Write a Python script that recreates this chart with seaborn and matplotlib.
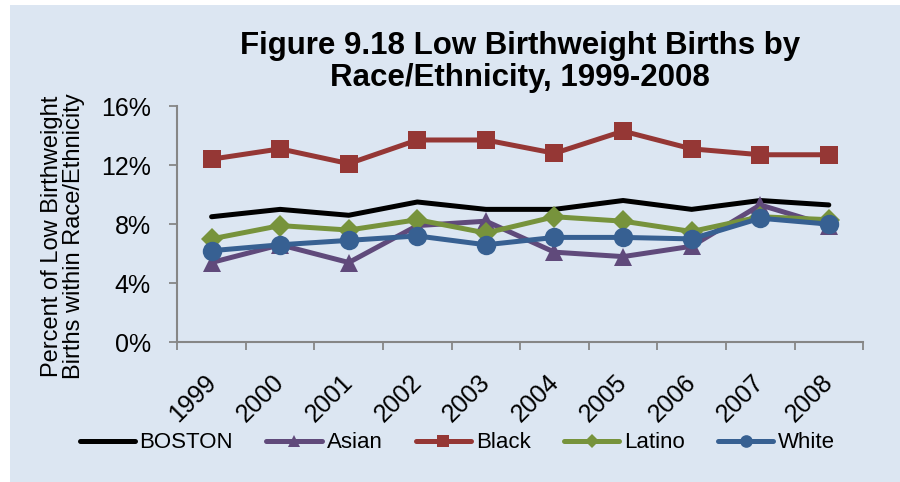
import pandas as pd
import matplotlib.pyplot as plt
import matplotlib.transforms as mtransforms
import seaborn as sns
from matplotlib.patches import Rectangle
from matplotlib.ticker import FuncFormatter, FixedLocator

years = ['1999', '2000', '2001', '2002', '2003', '2004', '2005', '2006', '2007', '2008']
boston = [8.5, 9.0, 8.6, 9.5, 9.0, 9.0, 9.6, 9.0, 9.6, 9.3]
asian = [5.4, 6.6, 5.4, 7.9, 8.2, 6.1, 5.8, 6.5, 9.3, 7.9]
black = [12.4, 13.1, 12.1, 13.7, 13.7, 12.8, 14.3, 13.1, 12.7, 12.7]
latino = [7.0, 7.9, 7.6, 8.3, 7.4, 8.5, 8.2, 7.5, 8.5, 8.3]
white = [6.2, 6.6, 6.9, 7.2, 6.6, 7.1, 7.1, 7.0, 8.4, 8.0]

series = ['BOSTON', 'Asian', 'Black', 'Latino', 'White']
values = [boston, asian, black, latino, white]
colors = ['#000000', '#604A7B', '#953735', '#77933C', '#376092']
markers = ['', '^', 's', 'D', 'o']
msizes = [0, 13, 13, 11, 14]

rows = []
for name, vals in zip(series, values):
    for i, v in enumerate(vals):
        rows.append({'pos': i, 'year': years[i], 'group': name, 'pct': v})
df = pd.DataFrame(rows)

bg = '#DCE6F2'
sns.set_style('white')
plt.rcParams['font.family'] = ['Liberation Sans', 'DejaVu Sans']
plt.rcParams['text.color'] = 'black'
plt.rcParams['axes.labelcolor'] = 'black'

fig = plt.figure(figsize=(9, 4.82), dpi=100)
fig.patch.set_facecolor('white')
fig.add_artist(Rectangle((10 / 900, 0), 1, 1 - 5 / 482, transform=fig.transFigure,
                         facecolor=bg, edgecolor='none', zorder=-10))
ax = fig.add_axes([0.197, 0.29, 0.762, 0.49])
ax.set_facecolor(bg)

for name, col, mk, ms in zip(series, colors, markers, msizes):
    sub = df[df['group'] == name]
    sns.lineplot(data=sub, x='pos', y='pct', ax=ax, color=col, linewidth=3.6,
                 marker=mk if mk else None, markersize=ms, markeredgewidth=0,
                 label=name, legend=False)

ax.set_xlim(-0.5, 9.5)
ax.set_ylim(0, 16)
ax.yaxis.set_major_locator(FixedLocator([0, 4, 8, 12, 16]))
ax.yaxis.set_major_formatter(FuncFormatter(lambda v, p: f'{int(v)}%'))
ax.set_xticks(range(10))
ax.xaxis.set_minor_locator(FixedLocator([i - 0.5 for i in range(11)]))
ax.tick_params(axis='x', which='major', length=0, pad=20, labelcolor='black')
ax.tick_params(axis='x', which='minor', length=6, color='#868686', width=1.3, direction='out', bottom=True)
ax.tick_params(axis='y', length=6, color='#868686', width=1.3, direction='out', left=True,
               labelsize=18, pad=13, labelcolor='black')
ax.set_xticklabels(years, rotation=45, ha='right', rotation_mode='anchor', fontsize=18)
# nudge the rotated year labels left so they end over their category
shift = mtransforms.ScaledTranslation(-8 / 100, 0, fig.dpi_scale_trans)
for lab in ax.xaxis.get_majorticklabels():
    lab.set_transform(lab.get_transform() + shift)
for s in ['top', 'right']:
    ax.spines[s].set_visible(False)
for s in ['left', 'bottom']:
    ax.spines[s].set_color('#868686')
    ax.spines[s].set_linewidth(1.5)
ax.set_xlabel('')
ax.set_ylabel('Percent of Low Birthweight\nBirths within Race/Ethnicity', fontsize=17, linespacing=1.0)
ax.yaxis.set_label_coords(-0.135, 0.45)

fig.text(0.578, 0.872, 'Figure 9.18 Low Birthweight Births by\nRace/Ethnicity, 1999-2008',
         ha='center', va='center', fontsize=22.5, fontweight='bold', linespacing=1.1)

handles, labels = ax.get_legend_handles_labels()
leg = fig.legend(handles, labels, loc='center', bbox_to_anchor=(0.508, 0.081), ncol=5,
                 frameon=False, fontsize=16,
                 handlelength=2.5, handletextpad=0.2, columnspacing=1.5, markerscale=0.65)

fig.savefig('out.png', dpi=100, facecolor='white')
